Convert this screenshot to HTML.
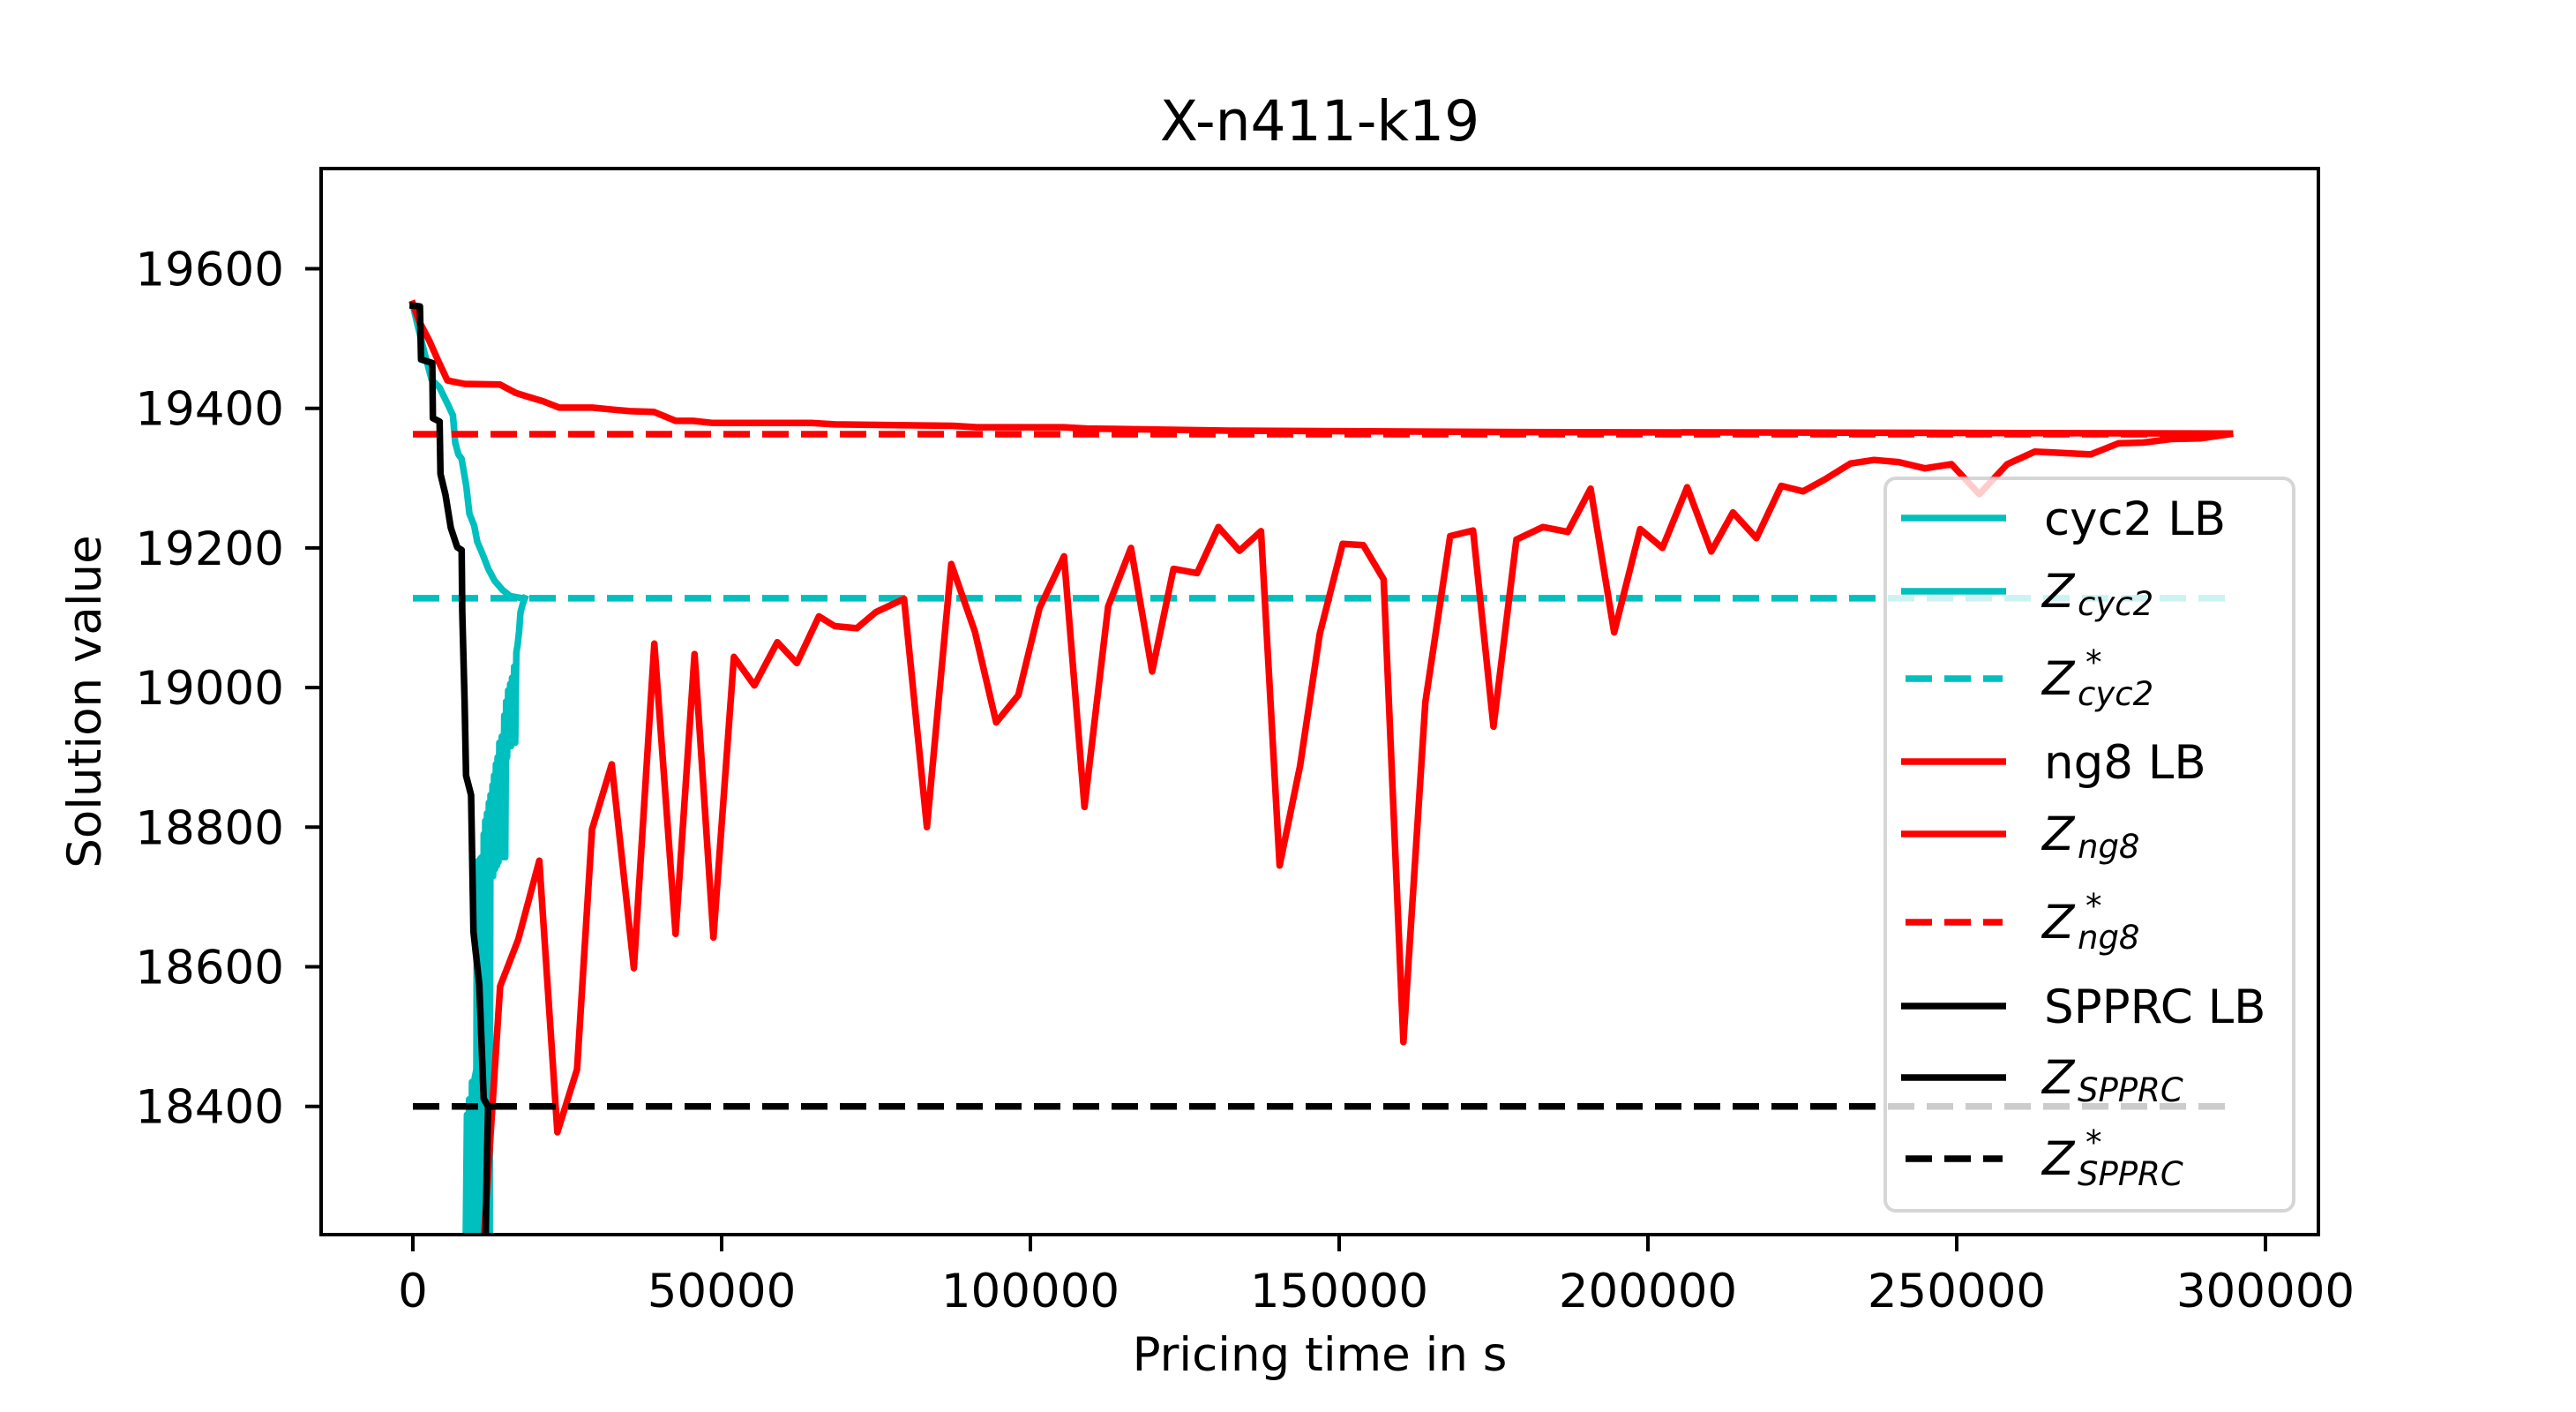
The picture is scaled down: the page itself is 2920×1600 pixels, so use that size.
<!DOCTYPE html>
<html>
<head>
<meta charset="utf-8">
<style>
  html, body { margin: 0; padding: 0; background: #ffffff; }
  svg { display: block; font-family: "DejaVu Sans", "Liberation Sans", sans-serif; }
</style>
</head>
<body>
<svg id="chart" xmlns="http://www.w3.org/2000/svg" width="2920" height="1600" viewBox="0 0 2920 1600">
  <rect x="0" y="0" width="2920" height="1600" fill="#ffffff"/>
  <defs>
    <clipPath id="plotClip"><rect x="366" y="193" width="2260" height="1205"/></clipPath>
  </defs>
  <text x="1496" y="159" font-size="63" text-anchor="middle" fill="#000">X-n411-k19</text>
  <g id="plot" clip-path="url(#plotClip)"></g>
  <rect x="364" y="191" width="2264" height="1208" fill="none" stroke="#000" stroke-width="4"/>
  <g id="xticks"></g>
  <g id="yticks"></g>
  <text x="1496" y="1553" font-size="53" text-anchor="middle" fill="#000">Pricing time in s</text>
  <text x="0" y="0" font-size="53" text-anchor="middle" fill="#000" transform="translate(114,795) rotate(-90)">Solution value</text>
  <g id="legend"></g>
</svg>
<script>
// ---- data ----
const xTicks = [0, 50000, 100000, 150000, 200000, 250000, 300000];
const xTickLabels = ["0", "50000", "100000", "150000", "200000", "250000", "300000"];
const yTicks = [18400, 18600, 18800, 19000, 19200, 19400, 19600];
const yTickLabels = ["18400", "18600", "18800", "19000", "19200", "19400", "19600"];

const cyc2LbTime = [0, 740, 2020, 3040, 4310, 5590, 6480, 6860, 7370, 7880, 8650, 9160, 9930, 10430, 11200, 12220, 13240, 14520, 15790, 17700];
const cyc2LbValue = [19548, 19520, 19475, 19441, 19430, 19407, 19390, 19351, 19334, 19328, 19289, 19249, 19232, 19209, 19193, 19170, 19153, 19140, 19131, 19128];

const zCyc2Time = [8286, 8500, 8762, 8900, 9100, 9300, 9571, 9800, 10000, 10286, 10381, 10500, 10650, 10800, 10950, 11143, 11300, 11476, 11600, 11714, 11850, 12000, 12150, 12300, 12429, 12571, 12700, 12905, 13000, 13143, 13300, 13450, 13600, 13714, 13850, 14000, 14200, 14400, 14600, 14800, 14952, 15100, 15250, 15429, 15600, 15750, 15905, 16050, 16238, 16400, 16571, 16750, 16952, 17200, 17429, 17800, 18143];
const zCyc2Value = [18173, 18150, 18388, 18160, 18410, 18180, 18435, 18200, 18440, 18453, 18748, 18170, 18752, 18170, 18755, 18757, 18173, 18790, 18173, 18809, 18173, 18820, 18173, 18835, 18173, 18846, 18740, 18860, 18730, 18874, 18740, 18890, 18745, 18900, 18750, 18921, 18760, 18930, 18757, 18960, 18757, 18980, 18900, 18996, 18916, 19005, 18916, 19014, 18921, 19030, 18921, 19050, 19061, 19080, 19108, 19120, 19128];

const ng8LbTime = [0, 1000, 2650, 4060, 5590, 8390, 14130, 16690, 18850, 21150, 23700, 29060, 32630, 35180, 39010, 42570, 45380, 48570, 64510, 68340, 87470, 91300, 105330, 109150, 132110, 180000, 240000, 294240];
const ng8LbValue = [19550, 19525, 19497, 19469, 19440, 19435, 19434, 19422, 19416, 19410, 19401, 19401, 19398, 19396, 19395, 19382, 19382, 19379, 19379, 19377, 19375, 19373, 19373, 19371, 19368, 19366, 19365, 19364];

const zNg8Time = [10700, 14130, 17060, 20470, 23400, 26590, 29010, 32200, 35790, 39100, 42550, 45610, 48670, 51990, 55300, 59010, 62190, 65760, 68320, 71890, 74950, 79540, 83240, 87190, 91020, 94460, 98040, 101480, 105440, 108750, 112580, 116280, 119720, 123170, 127000, 130440, 133860, 137350, 140360, 143670, 146860, 150570, 153900, 157200, 160400, 163960, 167970, 171690, 174990, 178700, 183000, 187010, 190710, 194530, 198740, 202340, 206360, 210260, 213770, 217570, 221590, 225100, 228600, 232810, 236620, 240630, 244840, 249150, 253660, 258170, 262670, 271700, 276200, 280210, 284710, 289530, 294240];
const zNg8Value = [18100, 18572, 18639, 18752, 18363, 18453, 18797, 18890, 18598, 19063, 18647, 19048, 18642, 19044, 19003, 19065, 19035, 19102, 19088, 19085, 19108, 19127, 18800, 19177, 19080, 18950, 18989, 19114, 19188, 18829, 19116, 19200, 19023, 19170, 19164, 19230, 19196, 19224, 18745, 18888, 19077, 19206, 19204, 19155, 18492, 18979, 19217, 19225, 18944, 19212, 19230, 19223, 19285, 19079, 19227, 19200, 19287, 19195, 19251, 19214, 19289, 19281, 19298, 19321, 19326, 19323, 19314, 19320, 19277, 19320, 19338, 19334, 19350, 19351, 19356, 19357, 19363];

const sppLbTime = [0, 1143, 1333, 3143, 3238, 4333, 4476, 5286, 6143, 7190, 7905, 8000, 8381, 8619, 9429, 9810, 10762, 11476, 12190];
const sppLbValue = [19547, 19546, 19470, 19465, 19386, 19381, 19306, 19276, 19229, 19201, 19197, 19108, 18977, 18874, 18846, 18650, 18575, 18411, 18400];

const zSppTime = [12190, 11950, 11600];
const zSppValue = [18400, 18300, 18100];

const optimumStart = 0;
const optimumEnd = 294240;
const zStarCyc2 = 19128;
const zStarNg8 = 19363;
const zStarSpp = 18400;

// ---- axis functions ----
function X(v) { return 468 + v / 50000 * 350; }
function Y(v) { return 304.5 + (19600 - v) / 200 * 158.2; }

const NS = "http://www.w3.org/2000/svg";
function mk(tag, attrs) {
  const el = document.createElementNS(NS, tag);
  for (const k in attrs) el.setAttribute(k, attrs[k]);
  return el;
}

const plot = document.getElementById("plot");
function drawLine(ts, vs, color, dashed, name) {
  let d = "";
  for (let i = 0; i < ts.length; i++) d += (i ? "L" : "M") + X(ts[i]).toFixed(1) + "," + Y(vs[i]).toFixed(1);
  const p = mk("path", { d: d, fill: "none", stroke: color, "stroke-width": 7.5, "stroke-linejoin": "round", "stroke-linecap": dashed ? "butt" : "square" });
  if (dashed) p.setAttribute("stroke-dasharray", "30 14");
  
  
  plot.appendChild(p);
}
drawLine(cyc2LbTime, cyc2LbValue, "#00bfbf", false, "cyc2-lb-line");
drawLine(zCyc2Time, zCyc2Value, "#00bfbf", false, "z-cyc2-line");
drawLine([optimumStart, optimumEnd], [zStarCyc2, zStarCyc2], "#00bfbf", true, "z-star-cyc2-line");
drawLine(ng8LbTime, ng8LbValue, "#ff0000", false, "ng8-lb-line");
drawLine(zNg8Time, zNg8Value, "#ff0000", false, "z-ng8-line");
drawLine([optimumStart, optimumEnd], [zStarNg8, zStarNg8], "#ff0000", true, "z-star-ng8-line");
drawLine(sppLbTime, sppLbValue, "#000000", false, "spprc-lb-line");
drawLine(zSppTime, zSppValue, "#000000", false, "z-spprc-line");
drawLine([optimumStart, optimumEnd], [zStarSpp, zStarSpp], "#000000", true, "z-star-spprc-line");

// ticks
const xg = document.getElementById("xticks");
xTicks.forEach((t, i) => {
  const x = X(t);
  const tk = mk("line", { x1: x, y1: 1399, x2: x, y2: 1418, stroke: "#000", "stroke-width": 4 });
  
  
  xg.appendChild(tk);
  const lb = mk("text", { x: x, y: 1481, "font-size": 53, "text-anchor": "middle", fill: "#000" });
  lb.textContent = xTickLabels[i];
  
  
  xg.appendChild(lb);
});
const yg = document.getElementById("yticks");
yTicks.forEach((t, i) => {
  const y = Y(t);
  const tk = mk("line", { x1: 346, y1: y, x2: 364, y2: y, stroke: "#000", "stroke-width": 4 });
  
  
  yg.appendChild(tk);
  const lb = mk("text", { x: 322, y: y + 19, "font-size": 53, "text-anchor": "end", fill: "#000" });
  lb.textContent = yTickLabels[i];
  
  
  yg.appendChild(lb);
});

// legend
const lg = document.getElementById("legend");
const box = mk("rect", { x: 2137, y: 542, width: 463, height: 830, rx: 12, fill: "#ffffff", "fill-opacity": 0.8, stroke: "#cccccc", "stroke-opacity": 0.8, "stroke-width": 4 });


lg.appendChild(box);

const legendRows = [
  { y: 587, color: "#00bfbf", dashed: false, type: "plain", text: "cyc2 LB" },
  { y: 670, color: "#00bfbf", dashed: false, type: "sub", sub: "cyc2" },
  { y: 769, color: "#00bfbf", dashed: true, type: "star", sub: "cyc2" },
  { y: 863, color: "#ff0000", dashed: false, type: "plain", text: "ng8 LB" },
  { y: 945, color: "#ff0000", dashed: false, type: "sub", sub: "ng8" },
  { y: 1045, color: "#ff0000", dashed: true, type: "star", sub: "ng8" },
  { y: 1140, color: "#000000", dashed: false, type: "plain", text: "SPPRC LB" },
  { y: 1221, color: "#000000", dashed: false, type: "sub", sub: "SPPRC" },
  { y: 1313, color: "#000000", dashed: true, type: "star", sub: "SPPRC" }
];
legendRows.forEach(r => {
  const g = mk("g", {});
  
  
  const ln = mk("line", { x1: r.dashed ? 2160 : 2155, y1: r.y, x2: r.dashed ? 2270 : 2274, y2: r.y, stroke: r.color, "stroke-width": 7.5 });
  if (r.dashed) ln.setAttribute("stroke-dasharray", "30 14");
  
  
  g.appendChild(ln);
  if (r.type === "plain") {
    const t = mk("text", { x: 2317, y: r.y + 19, "font-size": 53, fill: "#000" });
    t.textContent = r.text;
    
    
    g.appendChild(t);
  } else {
    const base = r.y + 18;
    const t = mk("text", { x: 2315, y: base, "font-size": 53, fill: "#000", "font-style": "italic" });
    t.textContent = "Z";
    
    
    g.appendChild(t);
    const s = mk("text", { x: 2355, y: base + (r.type === "star" ? 12 : 9), "font-size": 37, fill: "#000", "font-style": "italic" });
    s.textContent = r.sub;
    
    
    g.appendChild(s);
    if (r.type === "star") {
      const st = mk("text", { x: 2364, y: base - 24, "font-size": 37, fill: "#000" });
      st.textContent = "*";
      
      
      g.appendChild(st);
    }
  }
  lg.appendChild(g);
});
</script>
</body>
</html>
